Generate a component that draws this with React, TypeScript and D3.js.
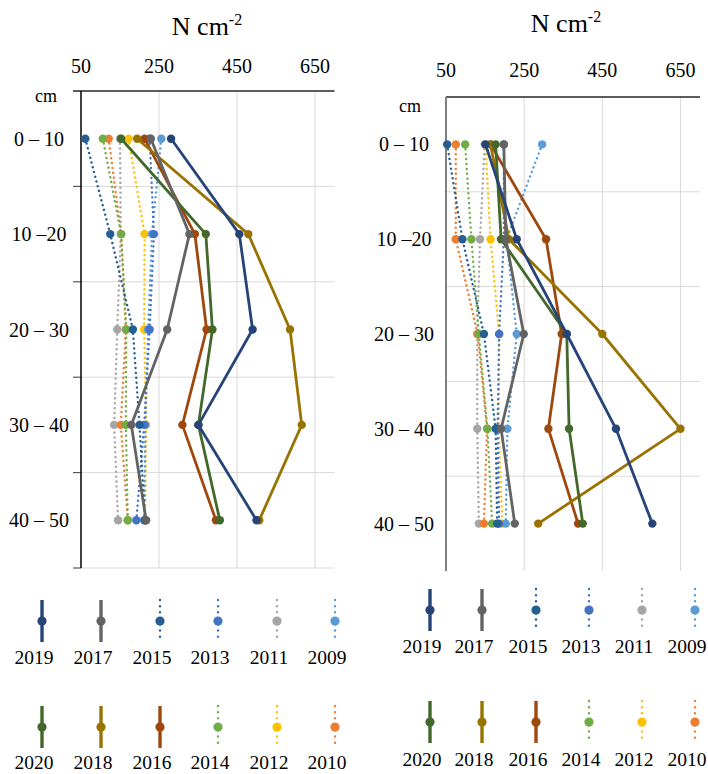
import React from "react";
import * as d3 from "d3";

const depths = ["0 – 10", "10 –20", "20 – 30", "30 – 40", "40 – 50"];
const xTicks = [50, 250, 450, 650];
const years = ["2019", "2017", "2015", "2013", "2011", "2009", "2020", "2018", "2016", "2014", "2012", "2010"];
const colors = ["#264478", "#636363", "#255E91", "#4472C4", "#A5A5A5", "#5B9BD5", "#43682B", "#997300", "#9E480E", "#70AD47", "#FFC000", "#ED7D31"];
const dotted = [false, false, true, true, true, true, false, false, false, true, true, true];
// drawing order (indices into years): dotted first, then solid
const drawOrder = [4, 11, 10, 9, 5, 3, 2, 8, 7, 6, 1, 0];

// Left panel values, order as in `years`
const leftValues: number[][] = [
  [281, 456, 490, 351, 500], // 2019
  [229, 328, 271, 179, 217], // 2017
  [61, 125, 183, 200, 214], // 2015
  [226, 237, 226, 212, 192], // 2013
  [150, 152, 143, 135, 145], // 2011
  [256, 232, 222, 215, 212], // 2009
  [153, 370, 387, 351, 406], // 2020
  [194, 479, 586, 616, 507], // 2018
  [213, 342, 372, 310, 396], // 2016
  [106, 153, 166, 165, 170], // 2014
  [172, 213, 212, 217, 214], // 2012
  [121, 153, 165, 152, 170], // 2010
];

// Right panel values
const rightValues: number[][] = [
  [151, 231, 359, 485, 578], // 2019
  [198, 203, 249, 191, 226], // 2017
  [53, 92, 147, 177, 181], // 2015
  [198, 198, 186, 182, 186], // 2013
  [149, 137, 130, 130, 134], // 2011
  [296, 205, 231, 207, 203], // 2009
  [177, 191, 359, 365, 400], // 2020
  [164, 211, 450, 650, 286], // 2018
  [164, 306, 346, 312, 388], // 2016
  [99, 115, 134, 156, 168], // 2014
  [151, 164, 186, 185, 194], // 2012
  [75, 75, 131, 155, 147], // 2010
];

const FONT = "'Liberation Serif', 'Times New Roman', serif";

type PanelCfg = {
  values: number[][];
  x0: number; x1: number; y0: number; y1: number;
  titleX: number; titleY: number; tickY: number;
  catX: number; cmX: number; cmY: number;
  axisColor: string; ticks: boolean; bottomGrid: boolean;
  legX: number[]; legRowY: number[]; legLabelY: number[];
};

function Panel({ cfg }: { cfg: PanelCfg }) {
  const x = d3.scaleLinear().domain([50, 700]).range([cfg.x0, cfg.x1]);
  const y = d3.scaleBand<string>().domain(depths).range([cfg.y0, cfg.y1]).paddingInner(0).paddingOuter(0);
  const bw = y.bandwidth();
  const yc = (d: string) => (y(d) as number) + bw / 2;
  const line = d3.line<number>().x((v) => x(v)).y((_, i) => yc(depths[i]));
  const boundaries = depths.slice(1).map((d) => y(d) as number);

  return (
    <g>
      <text x={cfg.titleX} y={cfg.titleY} fontFamily={FONT} fontSize={26} textAnchor="middle" fill="#000">
        N cm<tspan fontSize={16} dy={-10}>-2</tspan>
      </text>
      {xTicks.map((t) => (
        <text key={t} x={x(t)} y={cfg.tickY} fontFamily={FONT} fontSize={20} textAnchor="middle" fill="#000">{t}</text>
      ))}
      {xTicks.slice(1).map((t) => (
        <line key={"vg" + t} x1={x(t)} x2={x(t)} y1={cfg.y0} y2={cfg.y1} stroke="#d9d9d9" strokeWidth={1} />
      ))}
      {boundaries.map((b, i) => (
        <line key={"hg" + i} x1={cfg.x0} x2={cfg.x1} y1={b} y2={b} stroke="#d9d9d9" strokeWidth={1} />
      ))}
      {cfg.bottomGrid && (
        <line x1={cfg.x0} x2={cfg.x1} y1={cfg.y1} y2={cfg.y1} stroke="#d9d9d9" strokeWidth={1} />
      )}
      {cfg.ticks && [...boundaries, cfg.y1].map((b, i) => (
        <line key={"tk" + i} x1={cfg.x0 - 8} x2={cfg.x0} y1={b} y2={b} stroke="#595959" strokeWidth={1.2} />
      ))}
      <line x1={cfg.ticks ? cfg.x0 - 8 : cfg.x0} x2={cfg.x1} y1={cfg.y0} y2={cfg.y0} stroke="#262626" strokeWidth={1.5} />
      <line x1={cfg.x0} x2={cfg.x0} y1={cfg.y0} y2={cfg.y1} stroke={cfg.axisColor} strokeWidth={cfg.ticks ? 1.5 : 2} />
      <text x={cfg.cmX} y={cfg.cmY} fontFamily={FONT} fontSize={18} textAnchor="middle" fill="#000">cm</text>
      {depths.map((d) => (
        <text key={d} x={cfg.catX} y={yc(d) + 7} fontFamily={FONT} fontSize={20} textAnchor="middle" fill="#000">{d}</text>
      ))}
      {drawOrder.map((si) => (
        <g key={years[si]}>
          <path
            d={line(cfg.values[si]) || ""}
            fill="none"
            stroke={colors[si]}
            strokeWidth={dotted[si] ? 2.4 : 2.8}
            strokeDasharray={dotted[si] ? "0.1 4.8" : undefined}
            strokeLinecap={dotted[si] ? "round" : "butt"}
            strokeLinejoin="round"
          />
          {cfg.values[si].map((v, i) => (
            <circle key={i} cx={x(v)} cy={yc(depths[i])} r={4.2} fill={colors[si]} />
          ))}
        </g>
      ))}
      {years.map((yr, si) => {
        const row = si < 6 ? 0 : 1;
        const col = si % 6;
        const lx = cfg.legX[col];
        const ly = cfg.legRowY[row];
        return (
          <g key={"lg" + yr}>
            <line
              x1={lx} x2={lx} y1={ly - 21} y2={ly + 21}
              stroke={colors[si]}
              strokeWidth={dotted[si] ? 2.4 : 3.4}
              strokeDasharray={dotted[si] ? "0.1 6" : undefined}
              strokeLinecap={dotted[si] ? "round" : "butt"}
            />
            <circle cx={lx} cy={ly} r={4.6} fill={colors[si]} />
            <text x={lx - 8} y={cfg.legLabelY[row]} fontFamily={FONT} fontSize={19.5} textAnchor="middle" fill="#000">{yr}</text>
          </g>
        );
      })}
    </g>
  );
}

const leftCfg: PanelCfg = {
  values: leftValues,
  x0: 81, x1: 334.5, y0: 91, y1: 568,
  titleX: 207, titleY: 35, tickY: 72.5,
  catX: 39, cmX: 46, cmY: 102,
  axisColor: "#000", ticks: true, bottomGrid: true,
  legX: [42, 101, 160, 218, 277, 335], legRowY: [621, 727], legLabelY: [664, 769],
};

const rightCfg: PanelCfg = {
  values: rightValues,
  x0: 446, x1: 700, y0: 97, y1: 571,
  titleX: 566, titleY: 32, tickY: 77,
  catX: 404, cmX: 410, cmY: 112,
  axisColor: "#808080", ticks: false, bottomGrid: false,
  legX: [430, 482, 536, 589, 642, 695], legRowY: [610, 722], legLabelY: [653, 766],
};

export default function App() {
  return (
    <svg
      width={708}
      height={774}
      viewBox="0 0 708 774"
      style={{ position: "absolute", left: 0, top: 0, background: "#fff" }}
    >
      <rect x={0} y={0} width={708} height={774} fill="#fff" />
      <Panel cfg={leftCfg} />
      <Panel cfg={rightCfg} />
    </svg>
  );
}
